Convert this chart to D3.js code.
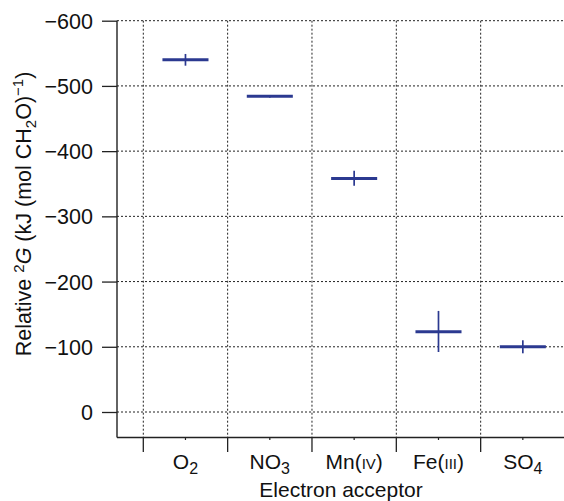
<!DOCTYPE html>
<html><head><meta charset="utf-8">
<script src="https://cdn.jsdelivr.net/npm/d3@7"></script>
<style>body{margin:0;background:#fff}svg{display:block}text{font-family:"Liberation Sans",Arial,Helvetica,sans-serif;fill:#111}</style>
</head><body><svg id="c" width="564" height="501"></svg>
<script>
const categories = ["O2","NO3","Mn(IV)","Fe(III)","SO4"];
const labelMain = ["O","NO","Mn(","Fe(","SO"];
const labelSub = ["2","3","","","4"];
const labelSmall = ["","","IV","III",""];
const labelTail = ["","",")",")",""];
const values = [-540,-484,-358,-123,-100];
const errTop = [-549,-486,-370,-155,-110];
const errBottom = [-531,-482,-347,-92,-90];
const yTicks = [0,-100,-200,-300,-400,-500,-600];

const svg = d3.select("#c");
const yAxisX = 117, xAxisY = 437.5;
const y = d3.scaleLinear().domain([0,-600]).range([412,20.7]);
const x = d3.scaleBand().domain(categories).range([143.3,565]).padding(0);
const color = "#2b3990";

// grid
const g = svg.append("g");
g.selectAll("line.hg").data(yTicks).join("line")
  .attr("x1",yAxisX).attr("x2",564).attr("y1",d=>y(d)).attr("y2",d=>y(d))
  .attr("stroke","#222").attr("stroke-width",1).attr("stroke-dasharray","2,2");
g.selectAll("line.vg").data(categories).join("line")
  .attr("x1",d=>x(d)).attr("x2",d=>x(d)).attr("y1",y(-600)).attr("y2",xAxisY)
  .attr("stroke","#222").attr("stroke-width",1).attr("stroke-dasharray","2,2");

// y axis
const ya = svg.append("g").attr("transform",`translate(${yAxisX},0)`)
  .call(d3.axisLeft(y).tickValues(yTicks).tickSize(15).tickPadding(9));
ya.select(".domain").remove();
ya.selectAll(".tick line").attr("stroke","#222").attr("stroke-width",1.3);
ya.selectAll(".tick text").style("font-size","21.5px").attr("fill","#111").attr("dy","0.35em");
svg.append("line").attr("x1",yAxisX).attr("x2",yAxisX).attr("y1",y(-600)).attr("y2",xAxisY)
  .attr("stroke","#222").attr("stroke-width",1.4);

// x axis
svg.append("line").attr("x1",yAxisX).attr("x2",564).attr("y1",xAxisY).attr("y2",xAxisY)
  .attr("stroke","#222").attr("stroke-width",1.4);
svg.selectAll("line.xt").data(categories).join("line")
  .attr("x1",d=>x(d)).attr("x2",d=>x(d)).attr("y1",xAxisY).attr("y2",xAxisY+14.5)
  .attr("stroke","#222").attr("stroke-width",1.3);
svg.selectAll("line.xm").data(categories).join("line")
  .attr("x1",d=>x(d)+x.bandwidth()/2).attr("x2",d=>x(d)+x.bandwidth()/2).attr("y1",xAxisY).attr("y2",xAxisY+2.5)
  .attr("stroke","#222").attr("stroke-width",1.2);
const lab = svg.selectAll("text.xl").data(categories).join("text")
  .attr("x",d=>x(d)+x.bandwidth()/2).attr("y",469).attr("text-anchor","middle").style("font-size","21px");
lab.each(function(d,i){
  const t = d3.select(this);
  t.append("tspan").text(labelMain[i]);
  if(labelSub[i]) t.append("tspan").attr("dy",5).style("font-size","16px").text(labelSub[i]);
  if(labelSmall[i]) t.append("tspan").style("font-size","15px").text(labelSmall[i]);
  if(labelTail[i]) t.append("tspan").text(labelTail[i]);
});
svg.append("text").attr("x",341).attr("y",496.5).attr("text-anchor","middle").style("font-size","21px").text("Electron acceptor");

// y label
const yl = svg.append("text").attr("transform","translate(31,214) rotate(-90)").attr("text-anchor","middle").style("font-size","21.5px");
yl.append("tspan").text("Relative ");
yl.append("tspan").attr("dy",-7).style("font-size","15px").text("2");
yl.append("tspan").attr("dy",7).style("font-style","italic").text("G");
yl.append("tspan").text(" (kJ (mol CH");
yl.append("tspan").attr("dy",5).style("font-size","15px").text("2");
yl.append("tspan").attr("dy",-5).text("O)");
yl.append("tspan").attr("dy",-8).style("font-size","15px").text("\u22121");
yl.append("tspan").attr("dy",8).text(")");

// marks
const m = svg.append("g");
const hw = x.bandwidth()*0.273;
categories.forEach((c,i)=>{
  const cx = x(c)+x.bandwidth()/2;
  m.append("line").attr("x1",cx).attr("x2",cx).attr("y1",y(errTop[i])).attr("y2",y(errBottom[i]))
    .attr("stroke",color).attr("stroke-width",1.7);
  m.append("line").attr("x1",cx-hw).attr("x2",cx+hw).attr("y1",y(values[i])).attr("y2",y(values[i]))
    .attr("stroke",color).attr("stroke-width",3);
});
</script></body></html>
